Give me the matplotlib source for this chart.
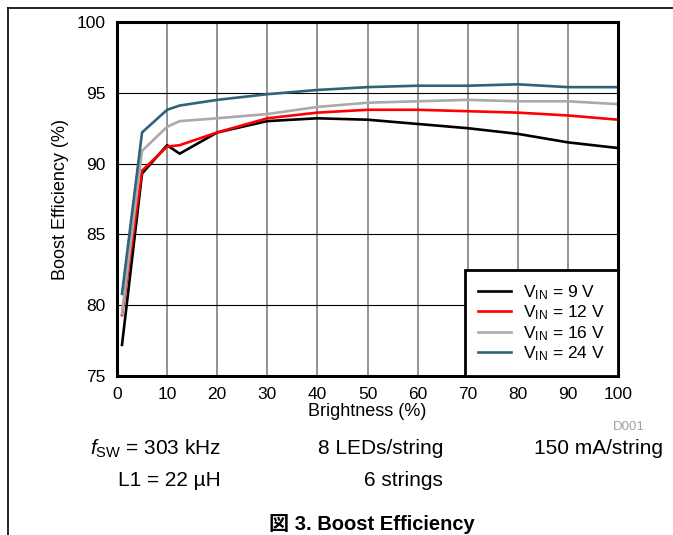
import matplotlib
matplotlib.use("Agg")
import matplotlib.pyplot as plt
from matplotlib.lines import Line2D

plt.rcParams['font.family'] = ['Liberation Sans', 'DejaVu Sans']
plt.rcParams['mathtext.fontset'] = 'custom'
plt.rcParams['mathtext.rm'] = 'Liberation Sans'
plt.rcParams['mathtext.it'] = 'Liberation Sans:italic'

# brightness (%) sample points
brightness = [1, 5, 10, 12.5, 20, 30, 40, 50, 60, 70, 80, 90, 100]

# boost efficiency (%) per input voltage
eff_9v = [77.2, 89.3, 91.3, 90.7, 92.2, 93.0, 93.2, 93.1, 92.8, 92.5, 92.1, 91.5, 91.1]
eff_12v = [79.3, 89.5, 91.2, 91.3, 92.2, 93.2, 93.6, 93.8, 93.8, 93.7, 93.6, 93.4, 93.1]
eff_16v = [79.4, 90.9, 92.6, 93.0, 93.2, 93.5, 94.0, 94.3, 94.4, 94.5, 94.4, 94.4, 94.2]
eff_24v = [80.8, 92.2, 93.8, 94.1, 94.5, 94.9, 95.2, 95.4, 95.5, 95.5, 95.6, 95.4, 95.4]

labels = [r'V$_{\mathrm{IN}}$ = 9 V', r'V$_{\mathrm{IN}}$ = 12 V',
          r'V$_{\mathrm{IN}}$ = 16 V', r'V$_{\mathrm{IN}}$ = 24 V']
colors = ['#000000', '#FF0000', '#AAAAAA', '#30627A']

fig = plt.figure(figsize=(6.73, 5.35), dpi=100)
ax = fig.add_axes([117 / 673, 1 - 376 / 535, 501 / 673, 354 / 535])

for ys, lab, c in zip([eff_9v, eff_12v, eff_16v, eff_24v], labels, colors):
    ax.plot(brightness, ys, color=c, lw=1.9, label=lab, zorder=3)

ax.set_xlim(0, 100)
ax.set_ylim(75, 100)
ax.set_xticks(range(0, 101, 10))
ax.set_yticks(range(75, 101, 5))
ax.tick_params(length=0, labelsize=12.5, pad=8)

ax.grid(axis='x', color='#808080', lw=1.2)
ax.grid(axis='y', color='#000000', lw=0.8)
for sp in ax.spines.values():
    sp.set_linewidth(2.2)
    sp.set_zorder(4)

ax.set_xlabel('Brightness (%)', fontsize=13, labelpad=1)
ax.set_ylabel('Boost Efficiency (%)', fontsize=13, labelpad=6)

leg = ax.legend(loc='lower right', fontsize=12.5, fancybox=False, framealpha=1,
                edgecolor='black', borderaxespad=0, handlelength=1.9,
                labelspacing=0.1, borderpad=0.75, handletextpad=0.7)
leg.get_frame().set_linewidth(2)
leg.set_zorder(5)

fig.text(645 / 673, 1 - 427 / 535, 'D001', fontsize=9.5, color='#A0A0A0',
         ha='right', va='center')

fig.text(221 / 673, 1 - 449 / 535, r'$\mathit{f}_{\mathrm{SW}}$ = 303 kHz',
         fontsize=15, ha='right', va='center')
fig.text(443 / 673, 1 - 449 / 535, '8 LEDs/string', fontsize=15,
         ha='right', va='center')
fig.text(663 / 673, 1 - 449 / 535, '150 mA/string', fontsize=15,
         ha='right', va='center')
fig.text(221 / 673, 1 - 480 / 535, 'L1 = 22 µH', fontsize=15,
         ha='right', va='center')
fig.text(443 / 673, 1 - 480 / 535, '6 strings', fontsize=15,
         ha='right', va='center')

fig.text(372 / 673, 1 - 530 / 535, '図 3. Boost Efficiency', fontsize=14.5,
         fontweight='bold', ha='center', va='baseline',
         family=['Liberation Sans', 'Noto Sans CJK JP'])

# page frame (top and left edges)
fig.add_artist(Line2D([8 / 673, 1], [1 - 8 / 535, 1 - 8 / 535], color='black',
                      lw=1.2, transform=fig.transFigure))
fig.add_artist(Line2D([8 / 673, 8 / 673], [0, 1 - 8 / 535], color='black',
                      lw=1.2, transform=fig.transFigure))

fig.savefig('out.png', dpi=100)
